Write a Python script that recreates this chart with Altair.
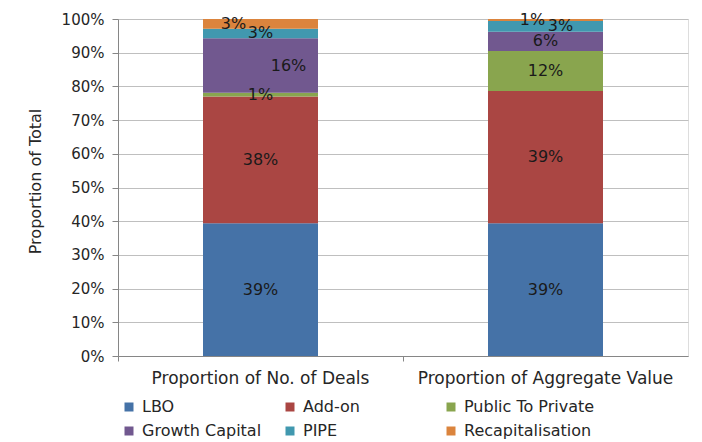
import altair as alt
import pandas as pd

# ---- data ----
categories = ["Proportion of No. of Deals", "Proportion of Aggregate Value"]
deal_types = ["LBO", "Add-on", "Public To Private", "Growth Capital", "PIPE", "Recapitalisation"]
share_deals = [0.394, 0.376, 0.011, 0.162, 0.028, 0.029]
share_value = [0.394, 0.392, 0.119, 0.057, 0.032, 0.006]
colors = ["#4572A7", "#AA4643", "#89A54E", "#71588F", "#4198AF", "#DB843D"]
y_ticks = [0.0, 0.1, 0.2, 0.3, 0.4, 0.5, 0.6, 0.7, 0.8, 0.9, 1.0]

rows = []
for cat, vals in zip(categories, [share_deals, share_value]):
    for i, (t, v) in enumerate(zip(deal_types, vals)):
        rows.append({"measure": cat, "type": t, "share": v, "order": i})
df = pd.DataFrame(rows)

FONT = "DejaVu Sans"
TXT = "#262626"
GRID = "#BFBFBF"
AXIS = "#868686"

# label nudges (pixels) for crowded small segments, as in the reference
nudges = {
    ("Proportion of No. of Deals", "Growth Capital"): 28,
    ("Proportion of No. of Deals", "Recapitalisation"): -27,
    ("Proportion of Aggregate Value", "PIPE"): 15,
    ("Proportion of Aggregate Value", "Recapitalisation"): -13,
}

x_axis = alt.Axis(bandPosition=0, labelAngle=0,
                  labelFont=FONT, labelFontSize=17, labelColor=TXT,
                  labelPadding=9, tickSize=5, tickColor=AXIS,
                  domainColor=AXIS, grid=False, labelLimit=400)
x_scale = alt.Scale(paddingInner=0, paddingOuter=0)

y_axis = alt.Axis(format=".0%", values=y_ticks, labelOverlap=False,
                  title="Proportion of Total", titleFont=FONT,
                  titleFontSize=16, titleFontWeight="normal",
                  titleColor=TXT, titlePadding=18, titleY=162,
                  labelFont=FONT, labelFontSize=15, labelColor=TXT,
                  labelPadding=8, tickSize=6, tickColor=AXIS,
                  domainColor=AXIS, gridColor=GRID)
y_scale = alt.Scale(domain=[0, 1], nice=False)

base = alt.Chart(df)

bars = base.mark_bar(size=115).encode(
    x=alt.X("measure:N", sort=categories, title=None, scale=x_scale, axis=x_axis),
    y=alt.Y("share:Q", stack="zero", scale=y_scale, axis=y_axis),
    color=alt.Color("type:N", sort=deal_types,
                    scale=alt.Scale(domain=deal_types, range=colors),
                    legend=alt.Legend(orient="none", legendX=3, legendY=380,
                                      direction="horizontal", columns=3,
                                      gridAlign="all", title=None,
                                      symbolType="square", symbolSize=81,
                                      symbolStrokeWidth=0, symbolOpacity=1,
                                      labelFont=FONT, labelFontSize=16,
                                      labelColor=TXT, labelOffset=5,
                                      columnPadding=9, rowPadding=8,
                                      padding=0, labelLimit=200)),
    order=alt.Order("order:Q"),
)

label_base = base.transform_stack(
    stack="share", as_=["y0", "y1"], groupby=["measure"],
    sort=[alt.SortField("order", order="ascending")],
).transform_calculate(mid="(datum.y0 + datum.y1) / 2")

label_layers = []
for dx in sorted(set(nudges.values()) | {0}):
    keys = [k for k, v in nudges.items() if v == dx]
    if dx == 0:
        cond = " && ".join(
            f"!(datum.measure == '{m}' && datum.type == '{t}')" for m, t in nudges
        )
    else:
        cond = " || ".join(
            f"(datum.measure == '{m}' && datum.type == '{t}')" for m, t in keys
        )
    label_layers.append(
        label_base.transform_filter(cond).mark_text(
            font=FONT, fontSize=16, color="#1a1a1a", dx=dx, baseline="middle"
        ).encode(
            x=alt.X("measure:N", sort=categories, title=None, scale=x_scale, axis=x_axis),
            y=alt.Y("mid:Q", scale=y_scale, axis=y_axis),
            text=alt.Text("share:Q", format=".0%"),
        )
    )

chart = alt.layer(bars, *label_layers).properties(
    width=570, height=337,
    autosize=alt.AutoSizeParams(type="none"),
    padding={"left": 110, "top": 11, "right": 6, "bottom": 86},
).configure_view(stroke=None).configure(background="white")

chart.save("out.html", embed_options={"renderer": "svg", "actions": False})
